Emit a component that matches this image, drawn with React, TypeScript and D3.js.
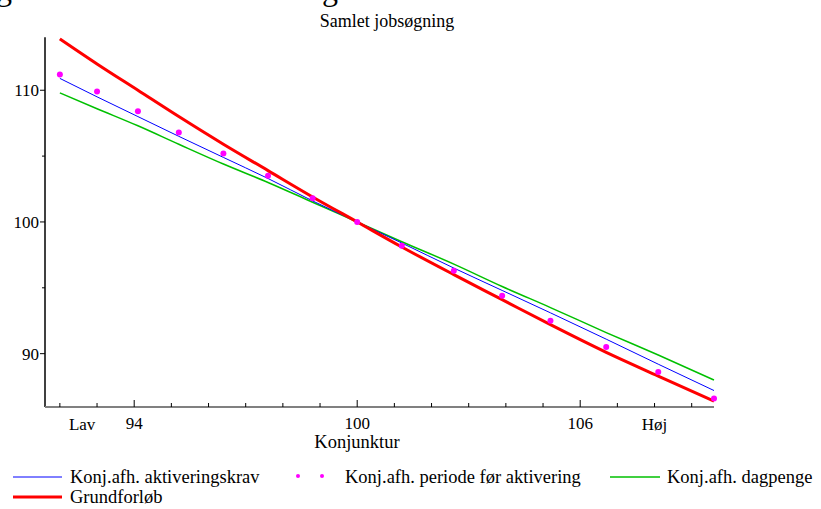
import React from "react";
import * as d3 from "d3";

const xValues = [92.0, 93.0, 94.1, 95.2, 96.4, 97.6, 98.8, 100, 101.2, 102.6, 103.9, 105.2, 106.7, 108.1, 109.6];
const aktiveringskrav = [110.9, 109.5, 108.0, 106.5, 104.9, 103.3, 101.6, 100, 98.4, 96.5, 94.8, 93.1, 91.1, 89.2, 87.2];
const periodeFoer = [111.2, 109.9, 108.4, 106.8, 105.2, 103.5, 101.8, 100, 98.2, 96.3, 94.4, 92.5, 90.5, 88.6, 86.6];
const dagpenge = [109.8, 108.6, 107.3, 105.9, 104.4, 103.0, 101.5, 100, 98.5, 96.8, 95.1, 93.5, 91.6, 89.9, 88.0];
const grundforloeb = [113.9, 112.0, 110.0, 108.0, 105.9, 103.9, 101.9, 100, 98.1, 96.0, 94.1, 92.2, 90.1, 88.3, 86.4];

const xMajorTicks = [94, 100, 106];
const xMinorTicks = [92, 93, 95, 96, 97, 98, 99, 101, 102, 103, 104, 105, 107, 108, 109];
const xEndLabels = [{ v: 92.6, t: "Lav" }, { v: 108.0, t: "Høj" }];
const yMajorTicks = [90, 100, 110];
const yMinorTicks = [95, 105];

const FS: React.CSSProperties = { fontFamily: '"Times New Roman", Times, "Liberation Serif", "DejaVu Serif", serif' };

export default function App() {
  const x = d3.scaleLinear().domain([91.6, 109.6]).range([45, 714]);
  const y = d3.scaleLinear().domain([85.95, 114.02]).range([407, 37.3]);

  const mk = (vals: number[]) =>
    d3.line<number>().x((_, i) => x(xValues[i])).y((v) => y(v)).curve(d3.curveMonotoneX)(vals) || "";

  return (
    <div style={{ position: "absolute", left: 0, top: 0 }}>
      <svg width={821} height={509} style={{ display: "block", background: "#fff" }}>
        <rect width={821} height={509} fill="#fff" />
        {/* cut-off header above the chart */}
        <text style={FS} x={-4} y={0} fontSize={32} fill="#000">g</text>
        <text style={FS} x={322} y={0} fontSize={32} fill="#000">g</text>

        <text style={FS} x={387} y={27} fontSize={18} textAnchor="middle" fill="#000">Samlet jobsøgning</text>

        {/* series */}
        <path d={mk(dagpenge)} fill="none" stroke="#00c000" strokeWidth={1.5} />
        <path d={mk(aktiveringskrav)} fill="none" stroke="#0000ff" strokeWidth={1} />
        <path d={mk(grundforloeb)} fill="none" stroke="#ff0000" strokeWidth={3} />
        {periodeFoer.map((v, i) => (
          <circle key={i} cx={x(xValues[i])} cy={y(v)} r={3} fill="#ff00ff" />
        ))}

        {/* y axis */}
        <line x1={45} x2={45} y1={37.3} y2={407} stroke="#000" strokeWidth={1.5} />
        {yMajorTicks.map((t) => (
          <g key={t}>
            <line x1={40} x2={45} y1={y(t)} y2={y(t)} stroke="#000" strokeWidth={1} />
            <text style={FS} x={39} y={y(t) + 6} fontSize={17} textAnchor="end" fill="#000">{t}</text>
          </g>
        ))}
        {yMinorTicks.map((t) => (
          <line key={t} x1={42} x2={45} y1={y(t)} y2={y(t)} stroke="#000" strokeWidth={1} />
        ))}

        {/* x axis */}
        <line x1={45} x2={714} y1={407} y2={407} stroke="#808080" strokeWidth={2} />
        {xMajorTicks.map((t) => (
          <g key={t}>
            <line x1={x(t)} x2={x(t)} y1={400} y2={407} stroke="#000" strokeWidth={1} />
            <text style={FS} x={x(t)} y={429} fontSize={17} textAnchor="middle" fill="#000">{t}</text>
          </g>
        ))}
        {xMinorTicks.map((t) => (
          <line key={t} x1={x(t)} x2={x(t)} y1={403} y2={407} stroke="#000" strokeWidth={1} />
        ))}
        {xEndLabels.map((d) => (
          <text style={FS} key={d.t} x={x(d.v)} y={430} fontSize={17} textAnchor="middle" fill="#000">{d.t}</text>
        ))}
        <text style={FS} x={357} y={448} fontSize={18.5} textAnchor="middle" fill="#000">Konjunktur</text>

        {/* legend */}
        <line x1={13} x2={62} y1={477} y2={477} stroke="#0000ff" strokeWidth={1} />
        <text style={FS} x={70} y={483} fontSize={18.5} fill="#000">Konj.afh. aktiveringskrav</text>
        <circle cx={298} cy={476} r={2} fill="#ff00ff" />
        <circle cx={322} cy={476} r={2} fill="#ff00ff" />
        <text style={FS} x={345} y={483} fontSize={18.5} fill="#000">Konj.afh. periode før aktivering</text>
        <line x1={610} x2={660} y1={477} y2={477} stroke="#00c000" strokeWidth={1.5} />
        <text style={FS} x={667} y={483} fontSize={18.5} fill="#000">Konj.afh. dagpenge</text>
        <line x1={13} x2={62} y1={497} y2={497} stroke="#ff0000" strokeWidth={3} />
        <text style={FS} x={70} y={503} fontSize={18.5} fill="#000">Grundforløb</text>
      </svg>
    </div>
  );
}
